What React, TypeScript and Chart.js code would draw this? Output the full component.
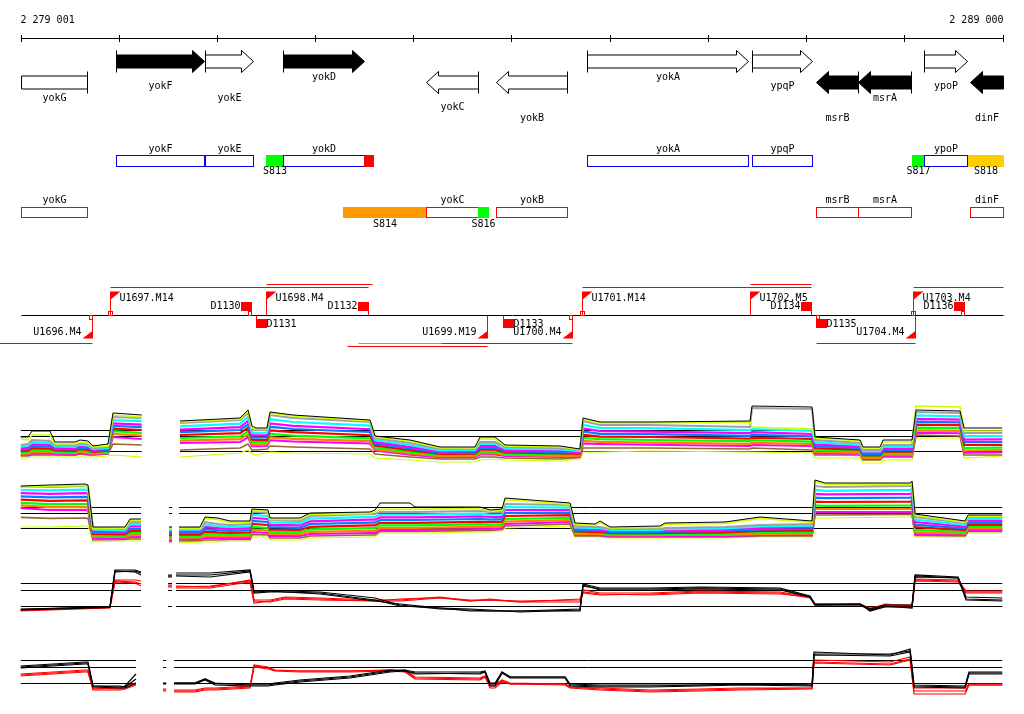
import React, { useEffect, useRef } from "react";
import { Chart, registerables } from "chart.js";

Chart.register(...registerables);

// ------------------------------------------------------------------ data
const VIEW_START = 2279001;
const VIEW_END = 2289000;
const RULER_TICKS = [2279001, 2280000, 2281000, 2282000, 2283000, 2284000, 2285000, 2286000, 2287000, 2288000, 2289000];
const RULER_LABEL_LEFT = "2 279 001";
const RULER_LABEL_RIGHT = "2 289 000";

// genes (top map)
const GENE_NAMES = ["yokG", "yokF", "yokE", "yokD", "yokC", "yokB", "yokA", "ypqP", "msrB", "msrA", "ypoP", "dinF"];
const GENE_LEFT = [2278700, 2279973, 2280880, 2281669, 2283130, 2283843, 2284770, 2286450, 2287102, 2287529, 2288201, 2288670];
const GENE_RIGHT = [2279675, 2280870, 2281368, 2282499, 2283660, 2284566, 2286409, 2287061, 2287529, 2288069, 2288639, 2289800];
const GENE_STRAND = [-1, 1, 1, 1, -1, -1, 1, 1, -1, -1, 1, -1];
const GENE_DARK = [false, true, false, true, false, false, false, false, true, true, false, true];

// plus-strand feature track (blue)
const PF_NAMES = ["yokF", "yokE", "S813", "yokD", "", "yokA", "ypqP", "S817", "ypoP", "S818"];
const PF_LEFT = [2279973, 2280880, 2281501, 2281669, 2282499, 2284770, 2286450, 2288079, 2288201, 2288650];
const PF_RIGHT = [2280870, 2281368, 2281669, 2282499, 2282591, 2286409, 2287061, 2288201, 2288639, 2289000];
const PF_KIND = ["gene", "gene", "green", "gene", "red", "gene", "gene", "green", "gene", "yellow"];

// minus-strand feature track (red)
const MF_NAMES = ["yokG", "S814", "yokC", "S816", "yokB", "msrB", "msrA", "dinF"];
const MF_LEFT = [2278700, 2282285, 2283130, 2283660, 2283843, 2287102, 2287529, 2288670];
const MF_RIGHT = [2279675, 2283130, 2283660, 2283762, 2284566, 2287529, 2288069, 2289800];
const MF_KIND = ["gene", "orange", "gene", "green", "gene", "gene", "gene", "gene"];

// transcription units / breakpoints
const TU_NAMES = ["U1696.M4", "U1697.M14", "D1130", "D1131", "U1698.M4", "D1132", "U1699.M19", "D1133", "U1700.M4", "U1701.M14", "U1702.M5", "D1134", "D1135", "U1704.M4", "U1703.M4", "D1136"];
const TU_POS = [2279729, 2279912, 2281348, 2281399, 2281501, 2282540, 2283751, 2283914, 2284617, 2284719, 2286430, 2287051, 2287102, 2288110, 2288089, 2288609];
const TU_STRAND = [-1, 1, 1, -1, 1, 1, -1, -1, -1, 1, 1, 1, -1, -1, 1, 1];
const TU_MARK = [true, true, true, false, false, false, false, false, true, true, false, false, true, false, true, true];

const SPAN_LEFT = [2278500, 2279912, 2281501, 2282326, 2282438, 2283283, 2284719, 2286430, 2287102, 2288089];
const SPAN_RIGHT = [2279729, 2282540, 2282580, 2283751, 2283283, 2284617, 2287051, 2287051, 2288110, 2289000];
const SPAN_STRAND = [-1, 1, 1, -1, -1, -1, 1, 1, -1, 1];
const SPAN_KIND = ["red", "red", "red", "red", "green", "red", "red", "red", "red", "red"];

// expression panels: positions (null = no probes) and levels per position
const P1_POS = [2279001, 2279077, 2279118, 2279301, 2279352, 2279556, 2279607, 2279688, 2279739, 2279892, 2279943, 2280235, null,
  2280625, 2281236, 2281318, 2281358, 2281399, 2281511, 2281542, 2281776, 2282560, 2282611, 2282967, 2283273, 2283629, 2283680,
  2283833, 2283935, 2284495, 2284698, 2284729, 2284902, 2285411, 2286429, 2286450, 2287061, 2287091, 2287550, 2287580, 2287753,
  2287784, 2288079, 2288120, 2288568, 2288609, 2289000];
const P1_LEVELS = [
  [16.5, 15.5, 12.5, 11.7, 10.8, 10.2, 9.5, 8.8, 8.1, 7.5, 7, 6],
  [16.5, 15, 13, 12.1, 11.2, 10.5, 9.7, 8.9, 8.2, 7.6, 7, 6],
  [19.5, 17.5, 15, 13.9, 12.8, 11.9, 10.9, 9.9, 9, 8.3, 7.5, 6.5],
  [19.5, 17.5, 14.5, 13.6, 12.6, 11.7, 10.7, 9.8, 9, 8.2, 7.5, 6.5],
  [14, 13, 12.5, 11.8, 11, 10.4, 9.8, 9.1, 8.5, 8, 7.5, 6.5],
  [14, 13.2, 12.3, 11.6, 10.9, 10.3, 9.6, 9, 8.4, 7.9, 7.4, 6.5],
  [15, 14, 13.5, 12.7, 11.9, 11.2, 10.5, 9.8, 9.1, 8.5, 8, 6.5],
  [14.5, 13.5, 13, 12.2, 11.4, 10.7, 10, 9.3, 8.6, 8, 7.5, 6.5],
  [12, 11.5, 11, 10.5, 10, 9.5, 9, 8.6, 8.2, 7.8, 7.5, 6.5],
  [13, 12, 11.5, 11, 10.5, 10, 9.6, 9.1, 8.7, 8.3, 8, 7],
  [28.5, 27.5, 26.5, 24.9, 23.3, 22.1, 20.7, 19.4, 18.1, 16.5, 13, 7.5],
  [27.5, 26.5, 26, 24.4, 22.7, 21.4, 20, 18.5, 17.2, 15.5, 12.5, 6.5],
  null,
  [24.5, 24, 23.5, 21.8, 20.2, 18.9, 17.5, 16, 14.7, 13.5, 10, 6.5],
  [26, 25.5, 25, 23.2, 21.4, 20, 18.4, 16.8, 15.4, 14, 11, 8.5],
  [30, 29.5, 28.5, 26.5, 24.5, 22.8, 21.1, 19.3, 17.7, 16.3, 13, 10],
  [22, 21, 20, 18.7, 17.3, 16.2, 15.1, 13.9, 12.8, 11.9, 10, 8],
  [21, 20.5, 20, 18.6, 17.3, 16.2, 15, 13.9, 12.8, 11.9, 10, 7.5],
  [21, 20.5, 20, 18.7, 17.4, 16.3, 15.1, 14, 12.9, 12, 10.5, 8.5],
  [29, 28.5, 27.5, 25.4, 23.3, 21.6, 19.8, 18, 16.3, 14.9, 12, 9],
  [27.5, 27, 26, 24, 22.1, 20.5, 18.9, 17.2, 15.6, 14.3, 11.5, 8.5],
  [25, 24.5, 24, 22.2, 20.4, 19, 17.4, 15.8, 14.4, 13.2, 10.5, 8],
  [17, 16.5, 16, 15, 13.9, 13.1, 12.2, 11.2, 10.4, 9.7, 8, 6],
  [15, 14.5, 13.5, 12.5, 11.6, 10.8, 9.9, 9.1, 8.3, 7.6, 6.5, 5],
  [11.5, 11, 10.5, 9.8, 9.2, 8.6, 8, 7.4, 6.9, 6.4, 5.5, 4],
  [11.5, 11, 10.8, 10.1, 9.4, 8.8, 8.2, 7.6, 7, 6.5, 5.5, 4],
  [16.5, 15.5, 14, 13, 11.9, 11.1, 10.2, 9.2, 8.4, 7.7, 6.5, 5],
  [16.5, 15.5, 14, 13, 11.9, 11.1, 10.2, 9.2, 8.4, 7.7, 6.5, 5.5],
  [12.5, 12, 11.5, 10.8, 10, 9.4, 8.8, 8.1, 7.5, 7, 6, 5],
  [12, 11.5, 11, 10.3, 9.5, 8.9, 8.3, 7.6, 7, 6.5, 5.5, 4.5],
  [10.5, 10.2, 10, 9.5, 9, 8.5, 8.1, 7.6, 7.2, 6.8, 6.3, 5.5],
  [26, 25.5, 24.5, 22.6, 20.8, 19.3, 17.6, 16, 14.5, 13.2, 11, 9],
  [24, 23.5, 22.5, 20.9, 19.4, 18.1, 16.7, 15.4, 14.1, 13, 11, 9],
  [24, 23.5, 22.5, 20.9, 19.2, 17.9, 16.5, 15, 13.7, 12.6, 11, 9.5],
  [24.5, 24, 21.5, 19.9, 18.4, 17.1, 15.7, 14.4, 13.1, 12, 10.5, 9],
  [32, 21.5, 31, 20.4, 18.9, 17.6, 16.2, 14.9, 13.6, 12.5, 11, 9],
  [31.5, 20.5, 30.5, 19.5, 18, 16.8, 15.5, 14.2, 13, 12, 10, 8.5],
  [16.5, 16, 15, 13.9, 12.8, 11.9, 10.9, 9.9, 9, 8.3, 7.5, 6],
  [15, 14.5, 13.5, 12.6, 11.7, 11, 10.2, 9.4, 8.7, 8.1, 7.5, 6],
  [11.5, 11, 10, 9.3, 8.5, 7.9, 7.3, 6.6, 6, 5.5, 5, 3.5],
  [11.5, 11, 10, 9.3, 8.5, 7.9, 7.3, 6.6, 6, 5.5, 5, 3.5],
  [15, 14, 12.5, 11.6, 10.7, 10, 9.2, 8.4, 7.7, 7.1, 6.5, 5],
  [15, 14, 12.5, 11.6, 10.7, 10, 9.2, 8.4, 7.7, 7.1, 6.5, 5],
  [30, 32, 29, 27.3, 25.6, 24.2, 22.7, 21.2, 19.8, 18.6, 17.5, 16],
  [29.5, 31.5, 28.5, 26.8, 25.2, 23.8, 22.4, 20.9, 19.5, 18.4, 17, 16],
  [21, 19.5, 18.5, 16.9, 15.2, 13.9, 12.5, 11, 9.7, 8.6, 7.5, 6],
  [21, 19.5, 18.5, 16.9, 15.3, 14, 12.6, 11.2, 9.9, 8.8, 7.5, 7],
];
const P1_REFS = [9.25, 16.75, 19.75];

const P2_POS = [2279001, 2279301, 2279658, 2279688, 2279739, 2280065, 2280116, 2280228, null, 2280513, 2280544, null,
  2280615, 2280829, 2280880, 2281012, 2281134, 2281338, 2281358, 2281521, 2281542, 2281847, 2281949, 2282560, 2282611,
  2282662, 2282967, 2283018, 2283680, 2283782, 2283904, 2283935, 2284597, 2284647, 2284851, 2284902, 2285004, 2285513,
  2285564, 2286175, 2286531, 2287061, 2287091, 2287193, 2288059, 2288079, 2288110, 2288619, 2288649, 2289000];
const P2_LEVELS = [
  [29.5, 28.8, 29, 27.4, 25.9, 24.3, 22.7, 21.1, 19.8, 18.5, 13.8, 9],
  [30, 29.3, 29, 27.3, 25.6, 23.8, 22.1, 20.4, 18.9, 17.5, 13.3, 9],
  [30.5, 29.8, 29.5, 27.7, 25.9, 24.1, 22.3, 20.5, 18.9, 17.5, 13.5, 9.5],
  [30, 29.3, 29.3, 27.5, 25.7, 23.9, 22.1, 20.3, 18.7, 17.3, 13.3, 9.5],
  [9, 8.3, 8.5, 7.8, 7, 6.3, 5.5, 4.8, 4.1, 3.5, 2.5, 1.5],
  [9, 8.3, 8, 7.3, 6.7, 6, 5.3, 4.6, 4, 3.5, 2.8, 2],
  [13, 12.3, 11.5, 10.4, 9.3, 8.1, 7, 5.9, 4.9, 4, 3, 2],
  [13, 12.3, 11.5, 10.4, 9.3, 8.1, 7, 5.9, 4.9, 4, 3, 2],
  null,
  [9, 8.3, 8.5, 7.6, 6.7, 5.8, 4.9, 4, 3.2, 2.5, 1.8, 1],
  [9, 8.3, 8.5, 7.6, 6.7, 5.8, 4.9, 4, 3.2, 2.5, 1.8, 1],
  null,
  [9, 8.3, 8.5, 7.7, 6.9, 6, 5.2, 4.4, 3.7, 3, 2, 1],
  [9, 8.3, 8.5, 7.7, 6.9, 6, 5.2, 4.4, 3.7, 3, 2.2, 1.5],
  [14, 13.3, 11.5, 10.3, 9.1, 7.9, 6.7, 5.5, 4.5, 3.5, 2.5, 1.5],
  [13.5, 12.8, 10.5, 9.5, 8.4, 7.4, 6.3, 5.3, 4.3, 3.5, 2.5, 1.5],
  [12, 11.3, 10, 9, 8.1, 7.1, 6.1, 5.1, 4.3, 3.5, 2.8, 2],
  [12, 11.3, 10.5, 9.5, 8.4, 7.4, 6.3, 5.3, 4.3, 3.5, 2.8, 2],
  [18, 17.3, 16.5, 15, 13.5, 12, 10.5, 9, 7.7, 6.5, 5.3, 4],
  [17.5, 16.8, 16, 14.5, 13, 11.5, 10, 8.5, 7.2, 6, 5, 4],
  [13.5, 12.8, 12.5, 11.3, 10.1, 8.9, 7.7, 6.5, 5.5, 4.5, 3.5, 2.5],
  [13.5, 12.8, 12, 10.9, 9.8, 8.6, 7.5, 6.4, 5.4, 4.5, 3.5, 2.5],
  [16, 15.3, 14.5, 13.2, 11.8, 10.5, 9.1, 7.8, 6.6, 5.5, 4.5, 3.5],
  [16.5, 15.8, 15.5, 14.1, 12.7, 11.2, 9.8, 8.4, 7.1, 6, 5, 4],
  [17.5, 16.8, 15.5, 14.1, 12.7, 11.2, 9.8, 8.4, 7.1, 6, 5, 4],
  [21, 17.8, 16.5, 15.2, 13.8, 12.5, 11.1, 9.8, 8.6, 7.5, 6.8, 6],
  [21, 17.8, 16.5, 15.2, 13.8, 12.5, 11.1, 9.8, 8.6, 7.5, 6.8, 6],
  [19, 17.8, 16.5, 15.2, 13.8, 12.5, 11.1, 9.8, 8.6, 7.5, 6.8, 6],
  [19, 18.3, 17, 15.7, 14.3, 13, 11.6, 10.3, 9.1, 8, 7.3, 6.5],
  [17.5, 16.8, 16.5, 15.2, 14, 12.7, 11.4, 10.1, 9, 8, 7.3, 6.5],
  [18, 17.3, 16.5, 15.3, 14.1, 12.9, 11.7, 10.5, 9.5, 8.5, 7.8, 7],
  [23.5, 22.8, 20.5, 19, 17.5, 16, 14.5, 13, 11.7, 10.5, 9.5, 8.5],
  [21, 20.3, 20, 18.7, 17.5, 16.2, 14.9, 13.6, 12.5, 11.5, 10.5, 9.5],
  [11, 10.3, 9.5, 8.8, 8.2, 7.5, 6.8, 6.1, 5.5, 5, 4.5, 4],
  [10.5, 9.8, 9, 8.4, 7.8, 7.2, 6.6, 6, 5.5, 5, 4.5, 4],
  [12, 11.3, 9, 8.4, 7.8, 7.2, 6.6, 6, 5.5, 5, 4.5, 4],
  [9, 8.5, 8, 7.5, 7, 6.4, 5.9, 5.4, 4.9, 4.5, 4, 3.5],
  [9.5, 8.8, 8, 7.5, 7, 6.4, 5.9, 5.4, 4.9, 4.5, 4, 3.5],
  [11, 10.3, 8.5, 7.9, 7.3, 6.7, 6.1, 5.5, 5, 4.5, 4, 3.5],
  [11.5, 10.8, 9, 8.3, 7.7, 7, 6.3, 5.6, 5, 4.5, 4, 3.5],
  [14, 13.3, 10, 9.3, 8.5, 7.8, 7, 6.3, 5.6, 5, 4.5, 4],
  [12, 11.3, 10.5, 9.7, 8.9, 8, 7.2, 6.4, 5.7, 5, 4.5, 4],
  [32.5, 31.8, 29.5, 27.6, 25.6, 23.7, 21.7, 19.8, 18, 16.5, 15, 13.5],
  [31, 30.3, 29, 27.1, 25.3, 23.4, 21.5, 19.6, 18, 16.5, 15, 13.5],
  [31, 30.3, 29.5, 27.6, 25.6, 23.7, 21.7, 19.8, 18.1, 16.5, 15.3, 14],
  [32, 31.3, 30, 28, 26, 23.9, 21.9, 19.9, 18.1, 16.5, 15.3, 14],
  [15.5, 14.8, 14, 12.7, 11.5, 10.2, 8.9, 7.6, 6.5, 5.5, 4.8, 4],
  [12, 11.3, 11, 10.1, 9.2, 8.3, 7.4, 6.5, 5.7, 5, 4.5, 4],
  [15, 14.3, 14, 13, 12.1, 11.1, 10.1, 9.1, 8.3, 7.5, 6.8, 6],
  [15, 14.3, 14, 13, 12.1, 11.1, 10.1, 9.1, 8.3, 7.5, 6.8, 6],
];
const P2_REFS = [8.25, 15.75, 18.75];

const P3_POS = [2279001, 2279912, 2279963, 2280167, 2280228, null, 2280503, 2280544, null, 2280584, 2280931, 2281338,
  2281379, 2281542, 2281694, 2282051, 2282611, 2282865, 2283273, 2283578, 2283782, 2284087, 2284698, 2284729, 2284902,
  2285411, 2285920, 2286735, 2287040, 2287091, 2287550, 2287651, 2287804, 2288079, 2288110, 2288548, 2288629, 2289000];
const P3_LEVELS = [
  [3, 2.5, 2.75, 2.5, 2, 2.5],
  [4, 3.75, 4.25, 4, 3.5, 3.75],
  [22.5, 22, 21.5, 17.5, 16.5, 17],
  [22.5, 21.5, 22, 17.5, 16, 16.5],
  [21.5, 20, 21, 17, 14.5, 15.5],
  null,
  [20, 19, 19.5, 15, 14, 14.5],
  [20, 19, 19.5, 15, 14, 14.5],
  null,
  [21, 19.5, 20, 14.5, 13.5, 14],
  [21, 19, 20, 14, 13.5, 14.5],
  [22.5, 21.5, 22, 17.5, 16.5, 17],
  [12, 11.5, 11, 7.5, 6, 7],
  [12, 12, 11.5, 7.5, 7, 6.5],
  [12, 11.5, 11.5, 9, 8.5, 8],
  [11.5, 11, 10.5, 8.5, 8, 7.5],
  [8.5, 7.5, 7, 7.5, 7, 7],
  [5, 4.5, 5.5, 7.5, 7, 8],
  [3, 3.5, 3.5, 9, 8.5, 8.75],
  [2.5, 3, 2, 7, 7, 7.5],
  [2, 2.5, 2, 8, 7.5, 7.5],
  [2, 1.5, 2, 6.5, 6.5, 7],
  [3, 2.5, 2, 8, 6.5, 7.5],
  [15.5, 14.5, 15, 12.5, 11, 11.5],
  [13.5, 13, 12.5, 11, 10, 10.5],
  [13.5, 13, 12.5, 11, 10.5, 10],
  [14, 13.5, 13, 12, 11.5, 11],
  [13.5, 13, 12.5, 11.5, 11, 10.5],
  [9.5, 9, 9, 9, 8.5, 9],
  [5.5, 5, 5, 5.5, 5, 5],
  [5.5, 5, 5.5, 5.5, 5, 5.5],
  [3, 2.5, 2, 3.5, 3, 2.5],
  [5, 4.5, 4, 5, 5.5, 4.5],
  [5, 3.5, 4, 5, 4.5, 4],
  [20, 19, 19.5, 18, 17, 17.5],
  [19, 18.5, 18.5, 17.5, 16.5, 17],
  [9, 7.5, 8, 12, 11, 11.5],
  [8.5, 7, 7.5, 12, 11, 11.5],
];
const P3_REFS = [4.25, 12.25, 15.75];

const P4_POS = [2279001, 2279658, 2279688, 2279739, 2280014, 2280065, 2280177, null, 2280452, 2280484, null, 2280564,
  2280778, 2280880, 2280982, 2281338, 2281379, 2281521, 2281593, 2281847, 2282356, 2282764, 2282916, 2283018, 2283680,
  2283731, 2283782, 2283833, 2283904, 2283986, 2284546, 2284597, 2284902, 2285411, 2285920, 2286328, 2287061, 2287081,
  2287855, 2288059, 2288099, 2288619, 2288659, 2289000];
const P4_LEVELS = [
  [14, 13.5, 14.5, 10, 9.5, 10.5],
  [16, 15.5, 16.5, 12, 11.5, 12.5],
  [16, 15.5, 16.5, 12, 11.5, 12.5],
  [4.5, 4, 4.5, 3.5, 2.5, 3],
  [4, 3.5, 4.5, 3, 2.5, 3.5],
  [4.5, 3.5, 4, 4.5, 3, 3.5],
  [10.5, 6, 8, 6, 5, 5.5],
  null,
  [6, 5.5, 5.75, 3, 2, 2.5],
  [6, 5.5, 5.75, 3, 2, 2.5],
  null,
  [6, 5.5, 6, 2.5, 1.5, 2],
  [6, 5.5, 6, 2.5, 1.5, 2],
  [8, 7.5, 8, 3.5, 2.5, 3],
  [6, 5, 5.5, 3.5, 2.5, 3],
  [5, 4.5, 5.5, 4.5, 3.5, 4],
  [5, 4.5, 5.5, 15, 14, 14.5],
  [5, 4.5, 5.5, 14, 13, 13.5],
  [5.5, 5, 6, 12.5, 12, 12.25],
  [7, 6.5, 7.5, 12, 11.5, 12],
  [9, 8.5, 9.5, 12, 11.5, 12],
  [12, 11.5, 12.5, 12.5, 12, 12.5],
  [12.5, 12, 12, 12.5, 11.5, 12],
  [11.5, 11, 10.5, 9, 8, 8.5],
  [11.5, 10.5, 11, 8.5, 7.5, 8],
  [12, 11.5, 11.5, 9.5, 9, 9.5],
  [6, 4.5, 5.5, 5, 3.5, 4.5],
  [6, 4.5, 5.5, 5, 3.5, 4.5],
  [11.5, 11, 11.5, 7.5, 6.5, 7],
  [9, 8.5, 9, 6, 5.5, 5.5],
  [9, 8.5, 9, 5.5, 5, 5.5],
  [5.5, 4.5, 5, 4, 3.5, 4],
  [5, 4, 4.5, 3.5, 2.5, 3],
  [5, 4, 4.5, 2.5, 1.5, 2],
  [5, 4.5, 5, 3, 2, 2.5],
  [5.5, 5, 5.5, 3.5, 2.5, 3],
  [5, 4.5, 5, 3.5, 3, 3.5],
  [21.5, 20, 20.5, 17.5, 16, 16.5],
  [20, 19.5, 20.5, 16.5, 15, 15.5],
  [23, 21.5, 22, 19, 17.5, 18],
  [5, 4, 4.5, 3.5, 0.5, 2],
  [4.5, 3.5, 4, 3.5, 0.5, 2],
  [11.5, 10.5, 11, 5.5, 5, 5],
  [11.5, 10.5, 11, 5.5, 5, 5],
];
const P4_REFS = [5.75, 13.75, 17.25];

// ------------------------------------------------------------------ styles / layout
const W = 1024;
const H = 714;
const PAD_LEFT = 20.5;
const PAD_RIGHT = 21.5;
const FONT = '10px "DejaVu Sans Mono", "Liberation Mono", monospace';
const MULTI_COLORS = ["#000000", "#ccff00", "#a0a0a0", "#00ffff", "#ff00ff", "#0080ff", "#ff0000", "#00ff00", "#ff8000", "#ff00ff", "#996633", "#ccff00"];
const MULTI_WIDTHS = [1, 1.6, 2, 2.2, 2.2, 2.2, 2.2, 2.2, 2.2, 2, 1.6, 1.2];
const PAIR_COLORS = ["#000000", "#000000", "#000000", "#ff0000", "#ff0000", "#ff0000"];
const PAIR_WIDTHS = [1.2, 1.2, 1.2, 1.2, 1.2, 1.2];
const KIND_COLORS: Record<string, string> = { green: "#00ff00", red: "#ff0000", orange: "#ff9900", yellow: "#ffcc00" };
const PANEL_BASE_PX = [470, 545, 615, 695];
const PX_PER_UNIT = 2;

const RULER_Y = 38.5;
const RULER_LABEL_Y = 20;
const LANE_PLUS = 61.5;
const LANE_MINUS = 82.5;
const SHAFT_HALF = 6.5;
const HEAD_HALF = 11;
const HEAD_LEN = 12;
const GENE_LABEL_ROW_Y = [77, 86, 98, 107, 118];
const GENE_LABEL_ROW = [2, 1, 2, 0, 3, 4, 0, 1, 4, 2, 1, 4];
const TRACK_PLUS = { top: 155.5, h: 11, above: 149.5, below: 171.5, outline: "#0000ff" };
const TRACK_MINUS = { top: 207.5, h: 10, above: 200.5, below: 224.5, outline: "#ff0000" };
const TU_LINE_Y = 315.5;
const SPAN_LEVEL = [0, 0, 1, 1, 0, 0, 0, 1, 0, 0];
const SPAN_Y_ABOVE = [287.5, 284.5];
const SPAN_Y_BELOW = [343.5, 346.5];

function axisRange(base: number) {
  const min = (base - H) / PX_PER_UNIT;
  return { min, max: min + H / PX_PER_UNIT };
}

function buildPanel(axisId: string, pos: (number | null)[], rows: (number[] | null)[], colors: string[], widths: number[], refs: number[]) {
  const datasets: any[] = [];
  const n = (rows.find((r) => r) as number[]).length;
  for (let j = 0; j < n; j++) {
    datasets.push({
      yAxisID: axisId,
      data: pos.map((x, i) => (x === null ? { x: (pos[i - 1] as number) + 1, y: null } : { x, y: (rows[i] as number[])[j] })),
      borderColor: colors[j],
      borderWidth: widths[j],
      pointRadius: 0,
      fill: false,
      tension: 0,
      order: j === 0 ? 1 : 2,
    });
  }
  const segs: number[][] = [];
  let cur: number[] = [];
  pos.forEach((x) => {
    if (x === null) {
      segs.push(cur);
      cur = [];
    } else cur.push(x);
  });
  segs.push(cur);
  for (const r of refs) {
    const data: any[] = [];
    segs.forEach((s, k) => {
      if (k > 0) data.push({ x: s[0] - 1, y: null });
      data.push({ x: s[0], y: r }, { x: s[s.length - 1], y: r });
    });
    datasets.push({ yAxisID: axisId, data, borderColor: "#000000", borderWidth: 1, pointRadius: 0, fill: false, tension: 0, order: 5 });
  }
  return datasets;
}

const annotationPlugin = {
  id: "genomeAnnotation",
  beforeDraw(chart: any) {
    const ctx = chart.ctx;
    ctx.save();
    ctx.fillStyle = "#ffffff";
    ctx.fillRect(0, 0, chart.width, chart.height);
    ctx.restore();
  },
  afterDraw(chart: any) {
    const ctx: CanvasRenderingContext2D = chart.ctx;
    const xs = chart.scales.x;
    const clamp = (v: number) => Math.min(Math.max(v, VIEW_START), VIEW_END);
    const X = (v: number) => Math.round(xs.getPixelForValue(clamp(v))) + 0.5;
    const XR = (v: number) => Math.round(xs.getPixelForValue(v)) + 0.5;
    ctx.save();
    ctx.font = FONT;
    ctx.textBaseline = "middle";
    ctx.lineWidth = 1;

    // ruler
    ctx.strokeStyle = "#000";
    ctx.fillStyle = "#000";
    ctx.beginPath();
    ctx.moveTo(X(VIEW_START), RULER_Y);
    ctx.lineTo(X(VIEW_END), RULER_Y);
    RULER_TICKS.forEach((t) => {
      ctx.moveTo(X(t), RULER_Y - 3.5);
      ctx.lineTo(X(t), RULER_Y + 3.5);
    });
    ctx.stroke();
    ctx.textAlign = "left";
    ctx.fillText(RULER_LABEL_LEFT, X(VIEW_START) - 1, RULER_LABEL_Y);
    ctx.textAlign = "right";
    ctx.fillText(RULER_LABEL_RIGHT, X(VIEW_END), RULER_LABEL_Y);

    // genes
    GENE_NAMES.forEach((name, i) => {
      const clipL = GENE_LEFT[i] < VIEW_START;
      const clipR = GENE_RIGHT[i] > VIEW_END;
      const L = X(GENE_LEFT[i]);
      const R = X(GENE_RIGHT[i]);
      const strand = GENE_STRAND[i];
      const cy = strand > 0 ? LANE_PLUS : LANE_MINUS;
      ctx.beginPath();
      if (strand > 0 && !clipR) {
        const hb = R - HEAD_LEN;
        ctx.moveTo(L, cy - SHAFT_HALF);
        ctx.lineTo(hb, cy - SHAFT_HALF);
        ctx.lineTo(hb, cy - HEAD_HALF);
        ctx.lineTo(R, cy);
        ctx.lineTo(hb, cy + HEAD_HALF);
        ctx.lineTo(hb, cy + SHAFT_HALF);
        ctx.lineTo(L, cy + SHAFT_HALF);
        ctx.closePath();
      } else if (strand < 0 && !clipL) {
        const hb = L + HEAD_LEN;
        ctx.moveTo(R, cy - SHAFT_HALF);
        ctx.lineTo(hb, cy - SHAFT_HALF);
        ctx.lineTo(hb, cy - HEAD_HALF);
        ctx.lineTo(L, cy);
        ctx.lineTo(hb, cy + HEAD_HALF);
        ctx.lineTo(hb, cy + SHAFT_HALF);
        ctx.lineTo(R, cy + SHAFT_HALF);
        ctx.closePath();
      } else {
        ctx.rect(L, cy - SHAFT_HALF, R - L, 2 * SHAFT_HALF);
      }
      ctx.fillStyle = GENE_DARK[i] ? "#000" : "#fff";
      ctx.fill();
      ctx.strokeStyle = "#000";
      ctx.stroke();
      const barX = strand > 0 ? (clipL ? null : L) : clipR ? null : R;
      if (barX !== null) {
        ctx.beginPath();
        ctx.moveTo(barX, cy - HEAD_HALF);
        ctx.lineTo(barX, cy + HEAD_HALF);
        ctx.stroke();
      }
      ctx.fillStyle = "#000";
      ctx.textAlign = "center";
      ctx.fillText(name, (L + R) / 2, GENE_LABEL_ROW_Y[GENE_LABEL_ROW[i]]);
    });

    // feature tracks
    const drawTrack = (names: string[], lefts: number[], rights: number[], kinds: string[], tr: any) => {
      names.forEach((name, i) => {
        const L = X(lefts[i]);
        const R = X(rights[i]);
        const kind = kinds[i];
        if (kind === "gene") {
          ctx.fillStyle = "#fff";
          ctx.fillRect(L, tr.top, R - L, tr.h);
          ctx.strokeStyle = tr.outline;
          ctx.strokeRect(L, tr.top, R - L, tr.h);
        } else {
          ctx.fillStyle = KIND_COLORS[kind];
          ctx.fillRect(L - 0.5, tr.top - 0.5, R - L + 1, tr.h + 1);
        }
      });
      names.forEach((name, i) => {
        if (!name) return;
        const L = X(lefts[i]);
        const R = X(rights[i]);
        ctx.fillStyle = "#000";
        ctx.textAlign = "center";
        ctx.fillText(name, (L + R) / 2, kinds[i] === "gene" ? tr.above : tr.below);
      });
    };
    drawTrack(PF_NAMES, PF_LEFT, PF_RIGHT, PF_KIND, TRACK_PLUS);
    drawTrack(MF_NAMES, MF_LEFT, MF_RIGHT, MF_KIND, TRACK_MINUS);

    // transcription unit spans
    SPAN_LEFT.forEach((s, i) => {
      const y = SPAN_STRAND[i] > 0 ? SPAN_Y_ABOVE[SPAN_LEVEL[i]] : SPAN_Y_BELOW[SPAN_LEVEL[i]];
      ctx.strokeStyle = KIND_COLORS[SPAN_KIND[i]];
      ctx.beginPath();
      ctx.moveTo(XR(s), y);
      ctx.lineTo(XR(SPAN_RIGHT[i]), y);
      ctx.stroke();
    });

    // main line
    ctx.strokeStyle = "#000";
    ctx.beginPath();
    ctx.moveTo(X(VIEW_START), TU_LINE_Y);
    ctx.lineTo(X(VIEW_END), TU_LINE_Y);
    ctx.stroke();

    // breakpoints
    const red = "#ff0000";
    TU_NAMES.forEach((name, i) => {
      const p = X(TU_POS[i]);
      const up = TU_STRAND[i] > 0;
      const isU = name.charAt(0) === "U";
      ctx.strokeStyle = red;
      ctx.fillStyle = red;
      let lx = 0;
      let ly = 0;
      let align: CanvasTextAlign = "left";
      if (isU) {
        ctx.beginPath();
        if (up) {
          ctx.moveTo(p, 292);
          ctx.lineTo(p, TU_LINE_Y - 0.5);
        } else {
          ctx.moveTo(p, TU_LINE_Y + 0.5);
          ctx.lineTo(p, 338);
        }
        ctx.stroke();
        ctx.beginPath();
        if (up) {
          ctx.moveTo(p - 0.5, 291.5);
          ctx.lineTo(p + 10, 291.5);
          ctx.lineTo(p - 0.5, 300);
        } else {
          ctx.moveTo(p + 0.5, 338.5);
          ctx.lineTo(p - 10, 338.5);
          ctx.lineTo(p + 0.5, 330.5);
        }
        ctx.closePath();
        ctx.fill();
        if (TU_MARK[i]) {
          if (up) ctx.strokeRect(p - 2, TU_LINE_Y - 4, 4, 4);
          else ctx.strokeRect(p - 3, TU_LINE_Y, 3, 4);
        }
        lx = up ? p + 9 : p - 11;
        ly = up ? 298.5 : 332.5;
        align = up ? "left" : "right";
      } else {
        if (up) {
          ctx.fillRect(p - 10.5, 302, 11, 9);
          if (TU_MARK[i]) ctx.strokeRect(p - 3, TU_LINE_Y - 4, 3, 4);
          else {
            ctx.beginPath();
            ctx.moveTo(p, 311);
            ctx.lineTo(p, TU_LINE_Y);
            ctx.stroke();
          }
        } else {
          ctx.fillRect(p - 0.5, 319, 11, 9);
          if (TU_MARK[i]) ctx.strokeRect(p, TU_LINE_Y, 3, 3.5);
          else {
            ctx.beginPath();
            ctx.moveTo(p, TU_LINE_Y);
            ctx.lineTo(p, 319);
            ctx.stroke();
          }
        }
        lx = up ? p - 11 : p + 10;
        ly = up ? 306.5 : 324;
        align = up ? "right" : "left";
      }
      ctx.fillStyle = "#000";
      ctx.textAlign = align;
      ctx.fillText(name, lx, ly);
    });
    ctx.restore();
  },
};

export default function App() {
  const ref = useRef<HTMLCanvasElement | null>(null);
  useEffect(() => {
    if (!ref.current) return;
    const datasets = [
      ...buildPanel("p1", P1_POS, P1_LEVELS, MULTI_COLORS, MULTI_WIDTHS, P1_REFS),
      ...buildPanel("p2", P2_POS, P2_LEVELS, MULTI_COLORS, MULTI_WIDTHS, P2_REFS),
      ...buildPanel("p3", P3_POS, P3_LEVELS, PAIR_COLORS, PAIR_WIDTHS, P3_REFS),
      ...buildPanel("p4", P4_POS, P4_LEVELS, PAIR_COLORS, PAIR_WIDTHS, P4_REFS),
    ];
    const yAxis = (i: number) => ({ type: "linear", display: false, ...axisRange(PANEL_BASE_PX[i]) });
    const chart = new Chart(ref.current, {
      type: "line",
      data: { datasets },
      options: {
        animation: false,
        responsive: false,
        events: [],
        spanGaps: false,
        layout: { padding: { left: PAD_LEFT, right: PAD_RIGHT, top: 0, bottom: 0 } },
        plugins: { legend: { display: false }, tooltip: { enabled: false } },
        elements: { point: { radius: 0 }, line: { tension: 0 } },
        scales: {
          x: { type: "linear", display: false, min: VIEW_START, max: VIEW_END },
          p1: yAxis(0),
          p2: yAxis(1),
          p3: yAxis(2),
          p4: yAxis(3),
        },
      } as any,
      plugins: [annotationPlugin],
    });
    return () => chart.destroy();
  }, []);
  return (
    <div style={{ position: "absolute", left: 0, top: 0, width: W, height: H, background: "#fff" }}>
      <canvas ref={ref} width={W} height={H} style={{ display: "block", width: W, height: H }} />
    </div>
  );
}
